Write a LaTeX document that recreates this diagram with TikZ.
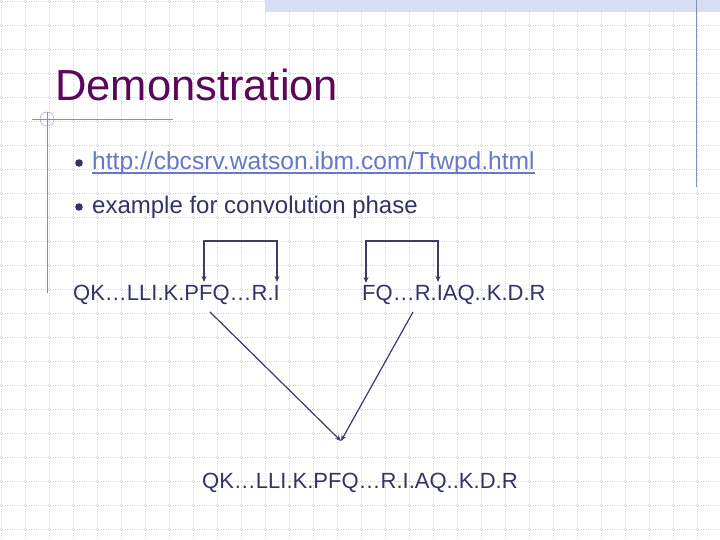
\documentclass[tikz,border=0pt]{standalone}
\usepackage{fontspec}
\setmainfont{Liberation Sans}
\usetikzlibrary{arrows.meta}
\definecolor{titlecol}{RGB}{92,8,90}
\definecolor{textcol}{RGB}{51,51,102}
\definecolor{linkcol}{RGB}{102,119,204}
\definecolor{linecol}{RGB}{60,60,100}
\definecolor{decocol}{RGB}{128,144,192}
\definecolor{gridcol}{RGB}{210,210,222}
\definecolor{bandcol}{RGB}{214,222,240}
\tikzset{
  seq/.style={anchor=base west, inner sep=0pt, text=textcol, font=\fontsize{22}{26}\selectfont},
  item/.style={anchor=base west, inner sep=0pt, text=textcol, font=\fontsize{24}{28}\selectfont},
  link/.style={-{Stealth[length=6pt,width=5pt]}, linecol, line width=1.2pt},
  twin/.style={{Stealth[length=6pt,width=5pt]}-{Stealth[length=6pt,width=5pt]}, linecol, line width=1.2pt}
}
\begin{document}
\begin{tikzpicture}[x=1pt,y=-1pt]
        \useasboundingbox (0,0) rectangle (720,540);
        \fill[white] (0,0) rectangle (720,540);
        
        \foreach \k in {0,...,29}
          \draw[gridcol, dotted] (1+24*\k,0) -- (1+24*\k,540);
        \foreach \k in {0,...,22}
          \draw[gridcol, dotted] (0,1+24*\k) -- (720,1+24*\k);
        
        \fill[bandcol] (265,0) rectangle (720,12);
        \draw[decocol, thick] (696,0) -- (696,187);
        \draw[decocol, thick] (32,119) -- (173,119);
        \draw[decocol, thick] (47,112) -- (47,293);
        \draw[decocol] (47,119) circle (7);
        
        \node[anchor=base west, inner sep=0pt, text=titlecol, font=\fontsize{43.5}{50}\selectfont] (title) at (55,101) {Demonstration};
        
        \fill[textcol] (79,163) circle (3.8);
        \node[item, text=linkcol, font=\fontsize{24.6}{28}\selectfont] (url) at (92,170) {http://cbcsrv.watson.ibm.com/Ttwpd.html};
        \draw[linkcol, line width=1.2pt] ([yshift=-3pt]url.base west) -- ([yshift=-3pt]url.base east);
        \fill[textcol] (79,207) circle (3.8);
        \node[item] (ex) at (92,214) {example for convolution phase};
        
        \node[seq] (left) at (73,300) {QK…LLI.K.PFQ…R.I};
        \node[seq] (right) at (362,300) {FQ…R.IAQ..K.D.R};
        \node[seq] (joined) at (202,488) {QK…LLI.K.PFQ…R.I.AQ..K.D.R};
        
        \coordinate (la) at (204,282);
        \coordinate (lb) at (277,282);
        \coordinate (ra) at (366,283);
        \coordinate (rb) at (438,282);
        \coordinate (lf) at (210,312);
        \coordinate (rf) at (413,312);
        \coordinate (meet) at (341,441);
        
        \draw[twin] (la) -- (204,241) -| (lb);
        \draw[twin] (ra) -- (366,241) -| (rb);
        \draw[link] (lf) -- (meet);
        \draw[link] (rf) -- (meet);
    \end{tikzpicture}
\end{document}
